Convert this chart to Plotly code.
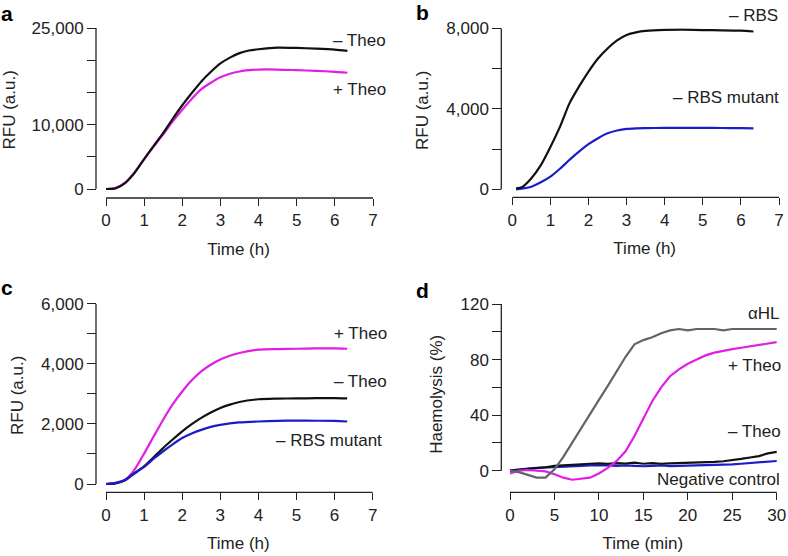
import plotly.graph_objects as go

# ---------------- data ----------------
# Panel a
a_time = [0, 0.25, 0.5, 0.75, 1, 1.25, 1.5, 1.75, 2, 2.25, 2.5, 2.75, 3, 3.25, 3.5, 3.75, 4, 4.5, 5, 5.5, 6, 6.33]
a_minus_theo = [0, 100, 900, 2500, 4650, 6700, 8700, 10900, 13000, 14900, 16700, 18200, 19500, 20400, 21100, 21500,
                21700, 21950, 21900, 21800, 21650, 21450]
a_plus_theo = [0, 150, 1000, 2600, 4650, 6600, 8500, 10500, 12300, 14000, 15500, 16500, 17350, 17900, 18250, 18450,
               18550, 18550, 18450, 18350, 18200, 18050]

# Panel b
b_time = [0.1, 0.25, 0.5, 0.75, 1, 1.25, 1.5, 1.75, 2, 2.25, 2.5, 2.75, 3, 3.25, 3.5, 4, 4.5, 5, 5.5, 6, 6.33]
b_rbs = [50, 100, 550, 1200, 2100, 3100, 4270, 5100, 5850, 6500, 7000, 7400, 7670, 7800, 7870, 7920, 7930, 7910,
         7900, 7880, 7840]
b_rbs_mutant = [0, 30, 130, 350, 630, 1020, 1460, 1870, 2240, 2540, 2780, 2920, 3000, 3030, 3040, 3050, 3050, 3050,
                3045, 3040, 3030]

# Panel c
c_time = [0, 0.25, 0.5, 0.75, 1, 1.25, 1.5, 1.75, 2, 2.25, 2.5, 2.75, 3, 3.25, 3.5, 4, 4.5, 5, 5.5, 6, 6.33]
c_plus_theo = [0, 30, 140, 480, 1010, 1580, 2140, 2650, 3080, 3450, 3750, 3970, 4140, 4270, 4360, 4470, 4490, 4500,
               4510, 4510, 4500]
c_minus_theo = [0, 20, 120, 370, 590, 890, 1200, 1480, 1750, 1990, 2200, 2380, 2530, 2640, 2730, 2820, 2840, 2850,
                2855, 2860, 2850]
c_rbs_mutant = [0, 40, 130, 350, 570, 840, 1090, 1320, 1530, 1680, 1800, 1900, 1970, 2020, 2050, 2080, 2100, 2110,
                2105, 2100, 2080]

# Panel d
d_time = list(range(0, 31))
d_ahl = [0, -1, -3, -5, -5, 1, 10, 20.5, 31, 41, 51, 61, 72, 82, 91, 94, 96, 99, 101, 102, 101, 102, 102, 102, 101,
         102, 102, 102, 102, 102, 102]
d_plus_theo = [-2, 0, 0.5, 0, -0.5, -2.5, -5, -6.5, -6, -5, -2, 2, 7, 14, 25, 38, 50, 60, 68, 73, 77, 80, 83, 85,
               86.5, 87.5, 88.5, 89.5, 90.5, 91.5, 92.5]
d_minus_theo = [0, 0.5, 1, 1.8, 2.5, 3.5, 4, 4.5, 4.8, 5, 5.3, 5, 5.5, 5.2, 5.8, 5, 5.5, 5, 5.3, 5.5, 5.2, 5.8, 6,
                6.3, 6.8, 7.5, 8.5, 9.5, 10.5, 12.5, 13.5]
d_negative = [0, 1, 1.5, 2, 2.2, 2.5, 3, 3.3, 3.5, 3.8, 4, 3.8, 3.5, 3.8, 3.5, 3.2, 3.5, 3.8, 3.3, 3.5, 3.2, 3.5,
              3.8, 4, 4.2, 4.5, 5, 5.5, 6.2, 6.8, 7]

# tick labels
h_ticks = [0, 1, 2, 3, 4, 5, 6, 7]
min_ticks = [0, 5, 10, 15, 20, 25, 30]
a_yticks = [0, 5000, 10000, 15000, 20000, 25000]
a_ylabels = ["0", "", "10,000", "", "", "25,000"]
b_yticks = [0, 2000, 4000, 6000, 8000]
b_ylabels = ["0", "", "4,000", "", "8,000"]
c_yticks = [0, 1000, 2000, 3000, 4000, 5000, 6000]
c_ylabels = ["0", "", "2,000", "", "4,000", "", "6,000"]
d_yticks = [0, 20, 40, 60, 80, 100, 120]
d_ylabels = ["0", "", "40", "", "80", "", "120"]

# ---------------- styling ----------------
W, H = 788, 556
FONT = "Liberation Sans, Arial, Helvetica, sans-serif"
FS = 17
BLACK = "#111111"
MAGENTA = "#E01EE6"
BLUE = "#1C1CCC"
GRAY = "#646464"
AXC = "#222222"
LW = 2.2


def pxx(x):
    return x / W


def pxy(y):
    return 1 - y / H


def dom(v0, p0, v1, p1, rng, vertical=False):
    s = (p1 - p0) / (v1 - v0)
    a = p0 + (rng[0] - v0) * s
    b = p0 + (rng[1] - v0) * s
    if vertical:
        return [pxy(a), pxy(b)]
    return [pxx(a), pxx(b)]


panels = {
    "1": dict(xp=(106, 373), xv=(0, 7), xr=[-0.05, 7], yp=(189, 28), yv=(0, 25000), yr=[-400, 25000],
              xline=198, yline=96, xt=h_ticks, yt=a_yticks, yl=a_ylabels, xtitle="Time (h)", ytitle="RFU (a.u.)"),
    "2": dict(xp=(512.3, 779), xv=(0, 7), xr=[-0.05, 7], yp=(189.3, 28.3), yv=(0, 8000), yr=[-150, 8000],
              xline=197.3, yline=501.3, xt=h_ticks, yt=b_yticks, yl=b_ylabels, xtitle="Time (h)",
              ytitle="RFU (a.u.)"),
    "3": dict(xp=(106, 372.7), xv=(0, 7), xr=[-0.05, 7], yp=(484, 303.7), yv=(0, 6000), yr=[-100, 6000],
              xline=492.3, yline=96, xt=h_ticks, yt=c_yticks, yl=c_ylabels, xtitle="Time (h)",
              ytitle="RFU (a.u.)"),
    "4": dict(xp=(510, 776.7), xv=(0, 30), xr=[-0.3, 30.2], yp=(470.7, 304), yv=(0, 120), yr=[-10, 120],
              xline=492.3, yline=501.3, xt=min_ticks, yt=d_yticks, yl=d_ylabels, xtitle="Time (min)",
              ytitle="Haemolysis (%)"),
}

fig = go.Figure()


def add_line(x, y, color, k):
    xa = "x" if k == "1" else "x" + k
    ya = "y" if k == "1" else "y" + k
    fig.add_trace(go.Scatter(x=x, y=y, mode="lines", line=dict(color=color, width=LW, shape="spline", smoothing=0.6),
                             xaxis=xa, yaxis=ya, showlegend=False, hoverinfo="skip"))


def add_jagged(x, y, color, k):
    fig.add_trace(go.Scatter(x=x, y=y, mode="lines", line=dict(color=color, width=LW), xaxis="x" + k,
                             yaxis="y" + k, showlegend=False, hoverinfo="skip"))


add_line(a_time, a_plus_theo, MAGENTA, "1")
add_line(a_time, a_minus_theo, BLACK, "1")
add_line(b_time, b_rbs_mutant, BLUE, "2")
add_line(b_time, b_rbs, BLACK, "2")
add_line(c_time, c_plus_theo, MAGENTA, "3")
add_line(c_time, c_minus_theo, BLACK, "3")
add_line(c_time, c_rbs_mutant, BLUE, "3")
add_jagged(d_time, d_negative, BLUE, "4")
add_jagged(d_time, d_minus_theo, BLACK, "4")
add_jagged(d_time, d_plus_theo, MAGENTA, "4")
add_jagged(d_time, d_ahl, GRAY, "4")

layout = dict(width=W, height=H, margin=dict(l=0, r=0, t=0, b=0), paper_bgcolor="white", plot_bgcolor="white",
              font=dict(family=FONT, size=FS, color=AXC), showlegend=False)
shapes = []
for k, p in panels.items():
    xname = "xaxis" if k == "1" else "xaxis" + k
    yname = "yaxis" if k == "1" else "yaxis" + k
    xref = "x" if k == "1" else "x" + k
    yref = "y" if k == "1" else "y" + k
    xd = dom(p["xv"][0], p["xp"][0], p["xv"][1], p["xp"][1], p["xr"])
    yd = dom(p["yv"][0], p["yp"][0], p["yv"][1], p["yp"][1], p["yr"], vertical=True)
    layout[xname] = dict(domain=xd, range=p["xr"], anchor="free", position=pxy(p["xline"]), showline=False,
                         showgrid=False, zeroline=False, ticks="outside", ticklen=7, tickwidth=1.3, tickcolor=AXC,
                         tickvals=p["xt"], ticktext=[str(t) for t in p["xt"]], tickfont=dict(size=FS),
                         title=dict(text=p["xtitle"], standoff=13, font=dict(size=FS)), automargin=False)
    layout[yname] = dict(domain=yd, range=p["yr"], anchor="free", position=pxx(p["yline"]), showline=False,
                         showgrid=False, zeroline=False, ticks="outside", ticklen=9, tickwidth=1.3, tickcolor=AXC,
                         tickvals=p["yt"], ticktext=p["yl"], tickfont=dict(size=FS),
                         title=dict(text=p["ytitle"], standoff=12, font=dict(size=FS)), automargin=False)
    shapes.append(dict(type="line", xref=xref, yref="paper", x0=p["xt"][0], x1=p["xt"][-1],
                       y0=pxy(p["xline"]), y1=pxy(p["xline"]), line=dict(color=AXC, width=1.3)))
    shapes.append(dict(type="line", xref="paper", yref=yref, x0=pxx(p["yline"]), x1=pxx(p["yline"]),
                       y0=p["yt"][0], y1=p["yt"][-1], line=dict(color=AXC, width=1.3)))
layout["shapes"] = shapes

ann = []


def lab(text, xr, ycen):
    ann.append(dict(text=text, xref="paper", yref="paper", x=pxx(xr), y=pxy(ycen), xanchor="right", yanchor="middle",
                    showarrow=False, font=dict(size=FS, color=AXC, family=FONT)))


lab("– Theo", 388, 40)
lab("+ Theo", 388, 89)
lab("– RBS", 780, 15)
lab("– RBS mutant", 781, 97)
lab("+ Theo", 389, 333)
lab("– Theo", 389, 382)
lab("– RBS mutant", 384, 440)
lab("αHL", 782, 313)
lab("+ Theo", 783, 365)
lab("– Theo", 783, 431)
lab("Negative control", 782, 479)


def letter(t, x, ytop):
    ann.append(dict(text="<b>%s</b>" % t, xref="paper", yref="paper", x=pxx(x), y=pxy(ytop), xanchor="left",
                    yanchor="top", showarrow=False, font=dict(size=21, color="#000000", family=FONT)))


letter("a", -1, 0)
letter("b", 414, -1)
letter("c", -1, 274)
letter("d", 414, 277)
layout["annotations"] = ann

fig.update_layout(**layout)
fig.write_html("out.html", config={"displayModeBar": False},
               post_script="document.body.style.margin='0';document.body.style.padding='0';")
